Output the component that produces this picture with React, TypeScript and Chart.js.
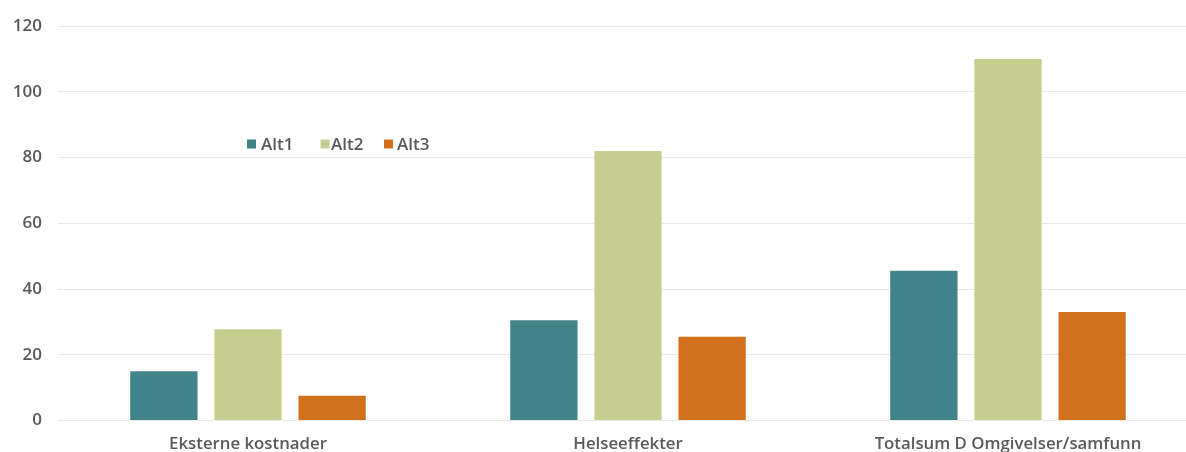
import React, { useEffect, useRef } from "react";
import { Chart, registerables } from "chart.js";

Chart.register(...registerables);

const categories = ["Eksterne kostnader", "Helseeffekter", "Totalsum D Omgivelser/samfunn"];
const seriesNames = ["Alt1", "Alt2", "Alt3"];
const alt1 = [15, 30.5, 45.6];
const alt2 = [27.8, 82, 110];
const alt3 = [7.5, 25.5, 33];
const seriesColors = ["#40848A", "#C5CE8F", "#D2711C"];
const yTicks = [0, 20, 40, 60, 80, 100, 120];

const FONT = "'Open Sans', 'Noto Sans', sans-serif";
const TEXT = "#595959";

const innerLegend = {
  id: "innerLegend",
  afterDraw(chart: any) {
    const ctx = chart.ctx;
    ctx.save();
    ctx.font = `600 17px ${FONT}`;
    ctx.textBaseline = "middle";
    ctx.textAlign = "left";
    const boxX = [247, 320.5, 384];
    const textX = [261, 331, 397];
    const y = 144;
    chart.data.datasets.forEach((ds: any, i: number) => {
      ctx.fillStyle = ds.backgroundColor;
      ctx.fillRect(boxX[i], y - 4.5, 9, 9);
      ctx.fillStyle = TEXT;
      ctx.fillText(ds.label, textX[i], y + 1);
    });
    ctx.restore();
  },
};

export default function App() {
  const ref = useRef<HTMLCanvasElement>(null);
  useEffect(() => {
    document.body.style.margin = "0";
    const chart = new Chart(ref.current!, {
      type: "bar",
      data: {
        labels: categories,
        datasets: [alt1, alt2, alt3].map((d, i) => ({
          label: seriesNames[i],
          data: d,
          backgroundColor: seriesColors[i],
          borderWidth: 0,
          categoryPercentage: 0.664,
          barPercentage: 0.8,
        })),
      },
      options: {
        animation: false,
        responsive: false,
        layout: { padding: { left: 0, right: 0, top: 16, bottom: 0 } },
        plugins: { legend: { display: false }, tooltip: { enabled: false } },
        scales: {
          x: {
            grid: { display: false, drawTicks: false },
            border: { display: false },
            ticks: { color: TEXT, font: { family: FONT, size: 16.8, weight: 600 }, padding: 14 },
            afterFit: (s: any) => {
              s.height = 49.5;
            },
          },
          y: {
            min: 0,
            max: 120,
            afterBuildTicks: (s: any) => {
              s.ticks = yTicks.map((v) => ({ value: v }));
            },
            grid: { color: "#E8E8E8", drawTicks: false },
            border: { display: false },
            ticks: { color: TEXT, font: { family: FONT, size: 17, weight: 600 }, padding: 16 },
            afterFit: (s: any) => {
              s.width = 58;
            },
          },
        },
      },
      plugins: [innerLegend],
    });
    return () => chart.destroy();
  }, []);
  return (
    <div style={{ position: "fixed", left: 0, top: 0, width: 1186, height: 452, overflow: "hidden", background: "#fff" }}>
      <canvas ref={ref} width={1198} height={470} style={{ width: 1198, height: 470, display: "block" }} />
    </div>
  );
}
